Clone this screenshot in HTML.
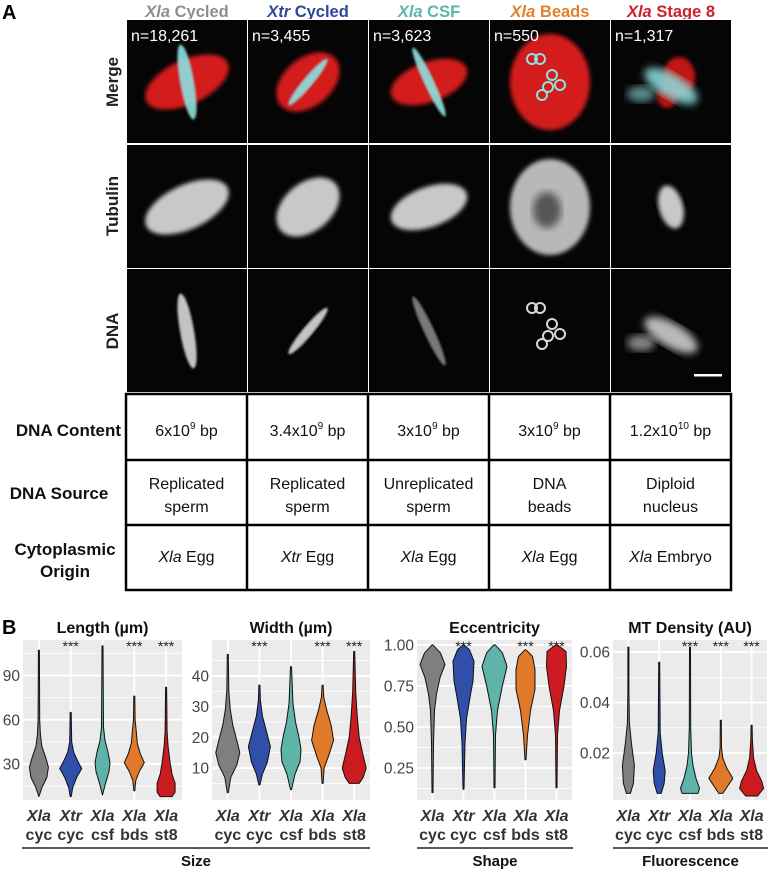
<!DOCTYPE html>
<html><head><meta charset="utf-8">
<style>
body{margin:0;background:#fff;}
svg text{font-family:"Liberation Sans",Arial,sans-serif;}
</style></head>
<body>
<svg id="fig" width="768" height="871" viewBox="0 0 768 871" xmlns="http://www.w3.org/2000/svg">
<defs>
<filter id="b2"><feGaussianBlur stdDeviation="2"/></filter>
<filter id="b4"><feGaussianBlur stdDeviation="4"/></filter>
<filter id="b1"><feGaussianBlur stdDeviation="1"/></filter>
</defs>
<text x="2" y="19" font-size="20" font-weight="bold">A</text>
<g id="headers" font-size="16.5" font-weight="bold" text-anchor="middle">
<text x="187" y="17" fill="#8e8e8e"><tspan font-style="italic">Xla</tspan> Cycled</text>
<text x="308" y="17" fill="#2b47a0"><tspan font-style="italic">Xtr</tspan> Cycled</text>
<text x="429" y="17" fill="#5cb5aa"><tspan font-style="italic">Xla</tspan> CSF</text>
<text x="550" y="17" fill="#e2802f"><tspan font-style="italic">Xla</tspan> Beads</text>
<text x="671" y="17" fill="#cf1f2a"><tspan font-style="italic">Xla</tspan> Stage 8</text>
</g>
<g font-size="17" font-weight="bold" fill="#222" text-anchor="middle">
<text transform="translate(118,82) rotate(-90)">Merge</text>
<text transform="translate(118,206) rotate(-90)">Tubulin</text>
<text transform="translate(118,331) rotate(-90)">DNA</text>
</g>
<g id="images"></g>
<g id="table"></g>
<g id="charts"></g>
</svg>
<script>
const NS="http://www.w3.org/2000/svg";
function mk(tag,attrs,parent){const e=document.createElementNS(NS,tag);for(const k in attrs)e.setAttribute(k,attrs[k]);parent.appendChild(e);return e;}
/* ---------- microscopy image grid ---------- */
const imgG=document.getElementById('images');
const colX=[127,248,369,490,611];
const rowY=[20,145,269];
const nLabels=["n=18,261","n=3,455","n=3,623","n=550","n=1,317"];
mk('rect',{x:126,y:19,width:606,height:375,fill:'#fff'},imgG);
for(let c=0;c<5;c++){for(let r=0;r<3;r++){
  const g=mk('g',{},imgG);
  
  
  const x=colX[c],y=rowY[r],cx=x+60,cy=y+62;
  mk('rect',{x:x,y:y,width:120,height:123,fill:'#050505'},g);
  const cp=mk('clipPath',{id:'cp'+r+c},g);mk('rect',{x:x,y:y,width:120,height:123},cp);
  const inner=mk('g',{'clip-path':'url(#cp'+r+c+')'},g);
  const rots=[-25,-40,-20,0,-10];
  const shapes=[[45,22],[36,24],[40,20],[40,48],[18,26]];
  const [rx,ry]=shapes[c];
  if(r===0){
    if(c===4){mk('ellipse',{cx:cx+8,cy:cy-5,rx:16,ry:20,fill:'#c01818',filter:'url(#b2)'},inner);
      mk('ellipse',{cx:cx-4,cy:cy+14,rx:10,ry:12,fill:'#b01515',filter:'url(#b2)'},inner);}
    else mk('ellipse',{cx:cx,cy:cy,rx:rx,ry:ry,fill:c===3?'#d51a1a':'#d41c1c',transform:'rotate('+rots[c]+' '+cx+' '+cy+')',filter:'url(#b2)'},inner);
  } else if(r===1){
    mk('ellipse',{cx:cx,cy:cy,rx:c===4?12:rx,ry:c===4?22:ry,fill:c===3?'#b8b8b8':'#c8c8c8',transform:'rotate('+(c===4?-15:rots[c])+' '+cx+' '+cy+')',filter:'url(#b2)'},inner);
    if(c===3) mk('ellipse',{cx:cx-3,cy:cy+3,rx:14,ry:18,fill:'#555',filter:'url(#b4)'},inner);
  }
  const dnaCol=r===0?'#8fe0e0':'#d8d8d8';
  if(r!==1){
    if(c===3){
      [[-10,-20],[-2,-20],[10,-4],[18,6],[6,8],[0,16]].forEach(p=>{mk('circle',{cx:cx+p[0]-8,cy:cy+p[1]-3,r:5,fill:'none',stroke:dnaCol,'stroke-width':2},inner);});
    } else if(c===4){
      mk('ellipse',{cx:cx,cy:cy+4,rx:30,ry:12,fill:dnaCol,opacity:0.85,transform:'rotate(30 '+cx+' '+(cy+4)+')',filter:'url(#b4)'},inner);
      mk('ellipse',{cx:cx-30,cy:cy+12,rx:14,ry:8,fill:dnaCol,opacity:0.6,filter:'url(#b4)'},inner);
    } else {
      const rot=[80,-50,65][c];
      mk('ellipse',{cx:cx,cy:cy,rx:c===1?30:38,ry:c===0?7:5,fill:dnaCol,opacity:r===2&&c===2?0.55:0.9,transform:'rotate('+rot+' '+cx+' '+cy+')',filter:'url(#b1)'},inner);
    }
  }
  if(r===0){
    const t=mk('text',{x:x+4,y:y+21,'font-size':16,fill:'#fff'},g);t.textContent=nLabels[c];
  }
}}
const sb=mk('rect',{x:694,y:374,width:28,height:2.5,fill:'#fff'},imgG);


/* ---------- table ---------- */
const tG=document.getElementById('table');
const tx=[126,247,368,489,610,731],ty=[394,460,525,590];
mk('rect',{x:126,y:394,width:605,height:196,fill:'#fff',stroke:'#000','stroke-width':2.5},tG);
tx.slice(1,5).forEach(x=>mk('line',{x1:x,y1:394,x2:x,y2:590,stroke:'#000','stroke-width':2.5},tG));
ty.slice(1,3).forEach(y=>mk('line',{x1:126,y1:y,x2:731,y2:y,stroke:'#000','stroke-width':2.5},tG));
const rowLabels=[["DNA Content"],["DNA Source"],["Cytoplasmic","Origin"]];
const rl=[[436],[499],[555,577]];
const rlx=[121,59,65];
const rla=['end','middle','middle'];
rowLabels.forEach((lab,i)=>{
  const t=mk('text',{x:rlx[i],'font-size':17,'font-weight':'bold','text-anchor':rla[i],fill:'#111'},tG);
  
  
  lab.forEach((l,j)=>{const s=mk('tspan',{x:rlx[i],y:rl[i][j]},t);s.textContent=l;});
});
const contentBase=["6x10","3.4x10","3x10","3x10","1.2x10"],contentExp=["9","9","9","9","10"];
const src=[["Replicated","sperm"],["Replicated","sperm"],["Unreplicated","sperm"],["DNA","beads"],["Diploid","nucleus"]];
const orgSp=["Xla","Xtr","Xla","Xla","Xla"],orgT=["Egg","Egg","Egg","Egg","Embryo"];
for(let c=0;c<5;c++){
  const cx=(tx[c]+tx[c+1])/2;
  const t1=mk('text',{x:cx,y:436,'font-size':16,'text-anchor':'middle',fill:'#111'},tG);
  
  
  mk('tspan',{},t1).textContent=contentBase[c];
  mk('tspan',{'font-size':10,dy:-7},t1).textContent=contentExp[c];
  mk('tspan',{dy:7},t1).textContent=" bp";
  const t2=mk('text',{'font-size':16,'text-anchor':'middle',fill:'#111'},tG);
  
  
  mk('tspan',{x:cx,y:489},t2).textContent=src[c][0];
  mk('tspan',{x:cx,y:512},t2).textContent=src[c][1];
  const t3=mk('text',{x:cx,y:562,'font-size':16,'text-anchor':'middle',fill:'#111'},tG);
  
  
  mk('tspan',{'font-style':'italic'},t3).textContent=orgSp[c];
  mk('tspan',{},t3).textContent=" "+orgT[c];
}
</script>
<script>
/* ---------- violin chart data ---------- */
const categoriesTop=["Xla","Xtr","Xla","Xla","Xla"];
const categoriesBottom=["cyc","cyc","csf","bds","st8"];
const colors=["#7f7f7f","#2f4fa8","#5fb4a9","#e07a2a","#cc1b20"];
const lengthTicks=[30,60,90];
const widthTicks=[10,20,30,40];
const eccTicks=[0.25,0.50,0.75,1.00];
const eccTickLabels=["0.25","0.50","0.75","1.00"];
const mtTicks=[0.02,0.04,0.06];
const mtTickLabels=["0.02","0.04","0.06"];
const lengthSig=[false,true,false,true,true];
const widthSig=[false,true,false,true,true];
const eccSig=[false,true,false,true,true];
const mtSig=[false,false,true,true,true];
/* density profiles: [value, half-width in px] */
const lengthCyc=[[8,0],[14,3],[21,8],[28,9.5],[34,7],[42,3],[50,1.5],[60,0.8],[107,0.5]];
const lengthXtr=[[8,0.5],[14,2],[21,6],[27,11],[32,7],[38,3],[45,1],[65,0.5]];
const lengthCsf=[[9,0],[17,3],[25,6.5],[31,7.5],[38,5.5],[46,2.5],[55,1],[110,0.5]];
const lengthBds=[[12,0.5],[19,1.5],[25,5],[31,10],[37,6],[44,3],[52,2],[60,0.8],[76,0.5]];
const lengthSt8=[[8,6],[11,9],[17,9],[23,6],[31,4],[42,2],[52,1],[82,0.5]];
const widthCyc=[[2,0.5],[7,3],[11,9],[15,12],[19,9],[24,5],[29,2.5],[35,1],[47,0.5]];
const widthXtr=[[4.5,0.5],[8,3],[12,8],[17,11],[22,7],[27,3],[32,1],[37,0.5]];
const widthCsf=[[3,0.5],[8,4],[12,9],[16,10],[20,8],[25,4.5],[31,2],[43,0.5]];
const widthBds=[[5,0.5],[10,1.5],[14,6],[19,11],[24,8.5],[29,4],[33,1.2],[37,0.5]];
const widthSt8=[[5,5],[7,9],[10,12],[14,9],[20,5],[27,3],[35,1.5],[48,0.5]];
const eccCyc=[[0.1,0.5],[0.4,1],[0.6,2],[0.7,4],[0.8,7.5],[0.88,12.5],[0.95,8],[1.0,0.5]];
const eccXtr=[[0.12,0.5],[0.4,1.5],[0.55,3],[0.68,6.5],[0.78,9.5],[0.9,10.5],[0.97,6],[1.0,0.5]];
const eccCsf=[[0.13,0.5],[0.45,1],[0.6,3],[0.74,7.5],[0.87,12.5],[0.95,8],[1.0,0.8]];
const eccBds=[[0.3,0.5],[0.45,2],[0.6,5],[0.73,9.5],[0.85,9.5],[0.93,7],[0.97,0.5]];
const eccSt8=[[0.13,0.5],[0.45,1],[0.6,3],[0.75,7.5],[0.87,10],[0.96,9.5],[1.0,1]];
const mtCyc=[[0.004,2],[0.008,5],[0.015,6],[0.024,3],[0.032,1],[0.045,0.5],[0.062,0.5]];
const mtXtr=[[0.004,2],[0.008,5],[0.013,6],[0.02,3],[0.028,1],[0.056,0.5]];
const mtCsf=[[0.004,8],[0.006,9.5],[0.01,6],[0.015,3],[0.02,1.5],[0.03,0.7],[0.062,0.5]];
const mtBds=[[0.004,2],[0.007,7],[0.01,12],[0.014,6],[0.018,2],[0.022,0.7],[0.033,0.5]];
const mtSt8=[[0.003,6],[0.006,12],[0.009,10],[0.013,5],[0.018,2],[0.025,0.8],[0.031,0.5]];

const panels=[
 {name:"length",title:"Length (µm)",x0:23,x1:182,dmin:5.7,dmax:114,ticks:lengthTicks,labels:lengthTicks.map(String),minor:[15,45,75,105],sig:lengthSig,data:[lengthCyc,lengthXtr,lengthCsf,lengthBds,lengthSt8]},
 {name:"width",title:"Width (µm)",x0:212,x1:370,dmin:-0.4,dmax:51.7,ticks:widthTicks,labels:widthTicks.map(String),minor:[5,15,25,35,45],sig:widthSig,data:[widthCyc,widthXtr,widthCsf,widthBds,widthSt8]},
 {name:"eccentricity",title:"Eccentricity",x0:417,x1:572,dmin:0.055,dmax:1.03,ticks:eccTicks,labels:eccTickLabels,minor:[0.125,0.375,0.625,0.875],sig:eccSig,data:[eccCyc,eccXtr,eccCsf,eccBds,eccSt8]},
 {name:"mt-density",title:"MT Density (AU)",x0:613,x1:767,dmin:0.0014,dmax:0.0648,ticks:mtTicks,labels:mtTickLabels,minor:[0.01,0.03,0.05],sig:mtSig,data:[mtCyc,mtXtr,mtCsf,mtBds,mtSt8]}
];
const cg=document.getElementById('charts');
const PT=640,PB=800;
const bl=mk('text',{x:2,y:634,'font-size':20,'font-weight':'bold'},cg);bl.textContent="B";


panels.forEach(p=>{
  const g=mk('g',{},cg);
  
  
  const y=v=>PB-(v-p.dmin)/(p.dmax-p.dmin)*(PB-PT);
  const step=(p.x1-p.x0)/5;
  const xc=i=>p.x0+step*(i+0.5);
  mk('rect',{x:p.x0,y:PT,width:p.x1-p.x0,height:PB-PT,fill:'#ebebeb'},g);
  p.minor.forEach(v=>mk('line',{x1:p.x0,x2:p.x1,y1:y(v),y2:y(v),stroke:'#fff','stroke-width':0.8},g));
  p.ticks.forEach((v,i)=>{
    mk('line',{x1:p.x0,x2:p.x1,y1:y(v),y2:y(v),stroke:'#fff','stroke-width':1.8},g);
    const t=mk('text',{x:p.x0-3,y:y(v)+5.5,'font-size':15.5,'text-anchor':'end',fill:'#444'},g);
    t.textContent=p.labels[i];
    
    
  });
  for(let i=0;i<5;i++) mk('line',{x1:xc(i),x2:xc(i),y1:PT,y2:PB,stroke:'#fff','stroke-width':1.8},g);
  const tt=mk('text',{x:(p.x0+p.x1)/2,y:633,'font-size':16,'font-weight':'bold','text-anchor':'middle',fill:'#111'},g);
  tt.textContent=p.title;
  
  
  p.data.forEach((prof,i)=>{
    const right=prof.map(d=>[xc(i)+d[1],y(d[0])]);
    const left=prof.slice().reverse().map(d=>[xc(i)-d[1],y(d[0])]);
    const pts=right.concat(left);
    const path=mk('path',{d:'M'+pts.map(q=>q[0].toFixed(1)+','+q[1].toFixed(1)).join('L')+'Z',fill:colors[i],stroke:'#111','stroke-width':1,'stroke-linejoin':'round'},g);
    
    
    if(p.sig[i]){
      const s=mk('text',{x:xc(i),y:651,'font-size':14,'text-anchor':'middle',fill:'#222'},g);
      s.textContent="***";
      
      
    }
    const l1=mk('text',{x:xc(i),y:821,'font-size':16,'font-weight':'bold','font-style':'italic','text-anchor':'middle',fill:'#333'},g);
    l1.textContent=categoriesTop[i];
    
    
    const l2=mk('text',{x:xc(i),y:840,'font-size':16,'font-weight':'bold','text-anchor':'middle',fill:'#333'},g);
    l2.textContent=categoriesBottom[i];
    
    
  });
});
const groups=[["Size",22,370],["Shape",417,573],["Fluorescence",613,768]];
groups.forEach(gp=>{
  mk('line',{x1:gp[1],x2:gp[2],y1:848,y2:848,stroke:'#222','stroke-width':1.5},cg);
  const t=mk('text',{x:(gp[1]+gp[2])/2,y:866,'font-size':15,'font-weight':'bold','text-anchor':'middle',fill:'#111'},cg);
  t.textContent=gp[0];
  
  
});
</script>
</body></html>
